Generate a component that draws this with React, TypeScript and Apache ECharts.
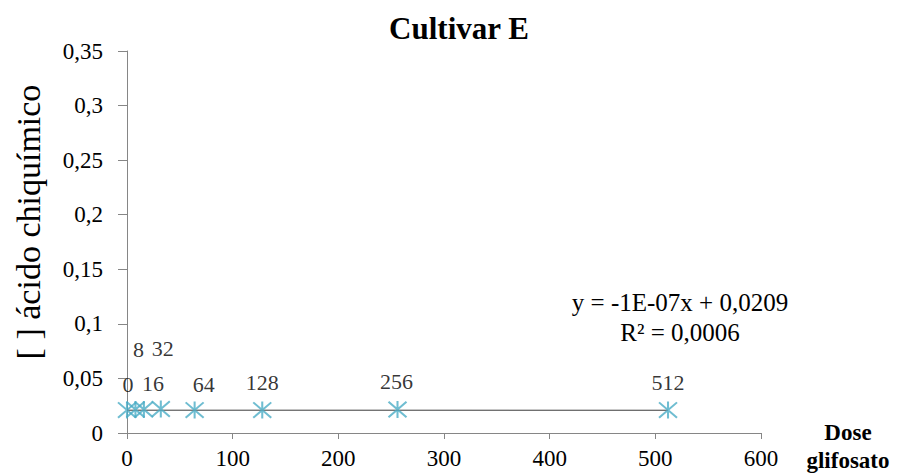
import React, { useEffect, useRef } from "react";
import * as echarts from "echarts";

// Glyphosate doses and measured shikimic acid concentration
const doses = [0, 8, 16, 32, 64, 128, 256, 512];
const shikimic = [0.021, 0.0215, 0.0215, 0.022, 0.021, 0.021, 0.0215, 0.021];
// Per-point label offsets (labels of close points are lifted to avoid overlap)
const labelOffsets: [number, number][] = [
  [1, -26],
  [3, -60],
  [9, -26],
  [2, -60],
  [9, -26],
  [0, -28],
  [-1, -28],
  [0, -28],
];
// Linear trend: y = -1E-07x + 0.0209
const trendSlope = -1e-7;
const trendIntercept = 0.0209;
const trendX = [0, 512];

const xTicks = [0, 100, 200, 300, 400, 500, 600];

const SERIF = "'Liberation Serif', 'Times New Roman', serif";
const asterisk = "path://M0,0L10,10M10,0L0,10M5,-0.5L5,10.5";

export default function App() {
  const ref = useRef<HTMLDivElement>(null);
  useEffect(() => {
    document.body.style.margin = "0";
    if (!ref.current) return;
    const chart = echarts.init(ref.current, null, { renderer: "svg" });
    const fmt = (v: number) => String(v).replace(".", ",");
    chart.setOption({
      animation: false,
      backgroundColor: "#ffffff",
      grid: { left: 127, right: 136, top: 51, bottom: 43, containLabel: false },
      xAxis: {
        type: "value",
        min: 0,
        max: 600,
        interval: 100,
        axisLine: { show: true, lineStyle: { color: "#868686", width: 1 } },
        axisTick: { show: true, length: 6, lineStyle: { color: "#868686" } },
        splitLine: { show: false },
        axisLabel: {
          fontFamily: SERIF,
          fontSize: 23,
          color: "#000",
          margin: 14,
          formatter: (v: number) => (xTicks.includes(v) ? String(v) : ""),
        },
      },
      yAxis: {
        type: "value",
        min: 0,
        max: 0.35,
        interval: 0.05,
        axisLine: { show: true, lineStyle: { color: "#868686", width: 1 } },
        axisTick: { show: true, length: 9, lineStyle: { color: "#868686" } },
        splitLine: { show: false },
        axisLabel: {
          fontFamily: SERIF,
          fontSize: 23,
          color: "#000",
          margin: 24,
          formatter: (v: number) => fmt(Math.round(v * 100) / 100),
        },
      },
      series: [
        {
          type: "line",
          data: trendX.map((x) => [x, trendSlope * x + trendIntercept]),
          symbol: "none",
          lineStyle: { color: "#3a3a3a", width: 1 },
          silent: true,
          z: 1,
        },
        {
          type: "scatter",
          symbol: asterisk,
          symbolSize: [18, 17],
          itemStyle: { color: "#4bacc6", borderColor: "#4bacc6", borderWidth: 2 },
          data: doses.map((d, i) => ({
            value: [d, shikimic[i]],
            label: { offset: labelOffsets[i] },
          })),
          label: {
            show: true,
            position: "inside",
            fontFamily: SERIF,
            fontSize: 22,
            color: "#000",
            textBorderWidth: 0,
            textBorderColor: "transparent",
            formatter: (p: any) => String(p.value[0]),
          },
          z: 3,
        },
      ],
      graphic: [
        {
          type: "text",
          x: 459,
          y: 28,
          style: {
            text: "Cultivar E",
            fontFamily: SERIF,
            fontSize: 31,
            fontWeight: "bold",
            fill: "#000",
            align: "center",
            verticalAlign: "middle",
          },
        },
        {
          type: "text",
          x: 28,
          y: 222,
          rotation: Math.PI / 2,
          style: {
            text: "[ ] ácido chiquímico",
            fontFamily: SERIF,
            fontSize: 34,
            fill: "#000",
            align: "center",
            verticalAlign: "middle",
          },
        },
        {
          type: "text",
          x: 848,
          y: 446,
          style: {
            text: "Dose\nglifosato",
            fontFamily: SERIF,
            fontSize: 23,
            fontWeight: "bold",
            lineHeight: 28,
            fill: "#000",
            align: "center",
            verticalAlign: "middle",
          },
        },
        {
          type: "text",
          x: 680,
          y: 302,
          style: {
            text: "y = -1E-07x + 0,0209",
            fontFamily: SERIF,
            fontSize: 25,
            fill: "#000",
            align: "center",
            verticalAlign: "middle",
          },
        },
        {
          type: "text",
          x: 680,
          y: 332,
          style: {
            text: "R² = 0,0006",
            fontFamily: SERIF,
            fontSize: 25,
            fill: "#000",
            align: "center",
            verticalAlign: "middle",
          },
        },
      ],
    });
    return () => chart.dispose();
  }, []);
  return <div ref={ref} style={{ width: 897, height: 476 }} />;
}
